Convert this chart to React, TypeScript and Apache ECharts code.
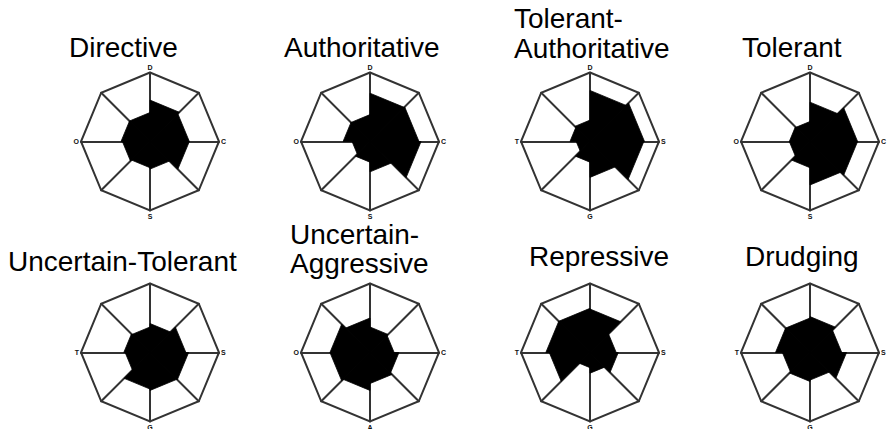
import React, { useEffect, useRef } from "react";
import * as echarts from "echarts";

// Octant scores (fraction of full radius), clockwise from top
const sectorNames = ["S1", "S2", "S3", "S4", "S5", "S6", "S7", "S8"];
const directive = [0.60, 0.57, 0.57, 0.40, 0.38, 0.40, 0.42, 0.42];
const authoritative = [0.70, 0.71, 0.74, 0.44, 0.30, 0.26, 0.39, 0.39];
const tolerantAuthoritative = [0.74, 0.79, 0.78, 0.52, 0.30, 0.20, 0.29, 0.31];
const tolerant = [0.57, 0.69, 0.69, 0.63, 0.38, 0.30, 0.30, 0.29];
const uncertainTolerant = [0.42, 0.52, 0.56, 0.55, 0.53, 0.36, 0.38, 0.37];
const uncertainAggressive = [0.37, 0.35, 0.42, 0.45, 0.55, 0.58, 0.58, 0.50];
const repressive = [0.63, 0.38, 0.41, 0.30, 0.22, 0.59, 0.64, 0.64];
const drudging = [0.52, 0.46, 0.53, 0.40, 0.42, 0.40, 0.50, 0.50];

const profiles = [
  directive,
  authoritative,
  tolerantAuthoritative,
  tolerant,
  uncertainTolerant,
  uncertainAggressive,
  repressive,
  drudging,
];

const titles = [
  ["Directive"],
  ["Authoritative"],
  ["Tolerant-", "Authoritative"],
  ["Tolerant"],
  ["Uncertain-Tolerant"],
  ["Uncertain-", "Aggressive"],
  ["Repressive"],
  ["Drudging"],
];

// axis end labels: [top, left, bottom, right]
const axisLabels = [
  ["D", "O", "S", "C"],
  ["D", "O", "S", "C"],
  ["D", "T", "G", "S"],
  ["D", "O", "S", "C"],
  ["", "T", "G", "S"],
  ["", "O", "A", "C"],
  ["", "T", "G", "S"],
  ["", "T", "G", "S"],
];

// layout
const COL_X = [150, 370, 590, 810];
const ROW_Y = [141.5, 352.5];
const RADIUS = 69;
const TITLE_POS = [
  [[69, 47]],
  [[284, 47]],
  [[514, 18], [514, 48]],
  [[742, 47]],
  [[8, 261]],
  [[290, 234], [290, 263]],
  [[529, 256]],
  [[745, 256]],
];

export default function App() {
  const ref = useRef<HTMLDivElement>(null);
  useEffect(() => {
    if (!ref.current) return;
    const chart = echarts.init(ref.current, undefined, { renderer: "svg" });
    const radars: any[] = [];
    const series: any[] = [];
    profiles.forEach((vals, i) => {
      const cx = COL_X[i % 4];
      const cy = ROW_Y[Math.floor(i / 4)];
      const [top, left, bottom, right] = axisLabels[i];
      // indicators counter-clockwise from top: top, NW, left, SW, bottom, SE, right, NE
      const names = [top, "", left, "", bottom, "", right, ""];
      radars.push({
        center: [cx, cy],
        radius: RADIUS,
        startAngle: 90,
        shape: "polygon",
        splitNumber: 1,
        nameGap: 2,
        axisName: {
          color: "#111",
          fontSize: 7,
          fontWeight: "bold",
          fontFamily: "Liberation Sans",
          lineHeight: 7,
        },
        indicator: names.map((n) => ({ name: n, min: 0, max: 1 })),
        axisLine: { lineStyle: { color: "#333", width: 2 } },
        splitLine: { lineStyle: { color: "#333", width: 2 } },
        splitArea: { show: false },
        axisTick: { show: false },
        axisLabel: { show: false },
      });
      const data = vals.map((v, k) => {
        const arr = [0, 0, 0, 0, 0, 0, 0, 0];
        arr[(8 - k) % 8] = v;
        arr[7 - k] = v;
        return { name: sectorNames[k], value: arr };
      });
      series.push({
        type: "radar",
        radarIndex: i,
        silent: true,
        symbol: "none",
        lineStyle: { color: "#000", width: 0.8 },
        areaStyle: { color: "#000", opacity: 1 },
        emphasis: { disabled: true },
        data,
      });
    });
    const graphics: any[] = [];
    titles.forEach((lines, i) => {
      lines.forEach((t, j) => {
        const [x, y] = TITLE_POS[i][j];
        graphics.push({
          type: "text",
          x,
          y,
          style: {
            text: t,
            fill: "#000",
            fontSize: 28,
            lineHeight: 22,
            fontFamily: "Liberation Sans, Arial, sans-serif",
            verticalAlign: "middle",
            align: "left",
          },
        });
      });
    });
    chart.setOption({
      animation: false,
      backgroundColor: "#fff",
      radar: radars,
      series,
      graphic: graphics,
    });
    return () => chart.dispose();
  }, []);
  return (
    <div
      ref={ref}
      style={{ position: "fixed", left: 0, top: 0, width: 887, height: 429 }}
    />
  );
}
